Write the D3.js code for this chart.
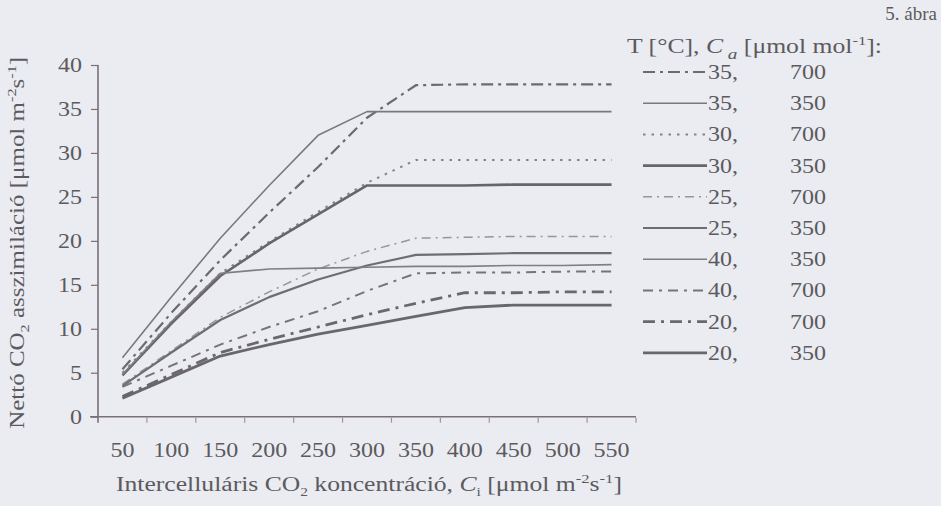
<!DOCTYPE html>
<html>
<head>
<meta charset="utf-8">
<script src="https://cdn.jsdelivr.net/npm/d3@7"></script>
<style>
  html, body { margin: 0; padding: 0; background: #eaecf1; }
  svg { display: block; }
  text { font-family: "Liberation Serif", "Times New Roman", serif; fill: #5c5a5e; }
</style>
</head>
<body>
<div id="chart"></div>
<script>
// Intercellular CO2 categories (x axis)
const categories = [50, 100, 150, 200, 250, 300, 350, 400, 450, 500, 550];
const yTicks = [0, 5, 10, 15, 20, 25, 30, 35, 40];

// Net assimilation per series
const a35_700 = [5.4, 11.8, 17.8, 23.2, 28.4, 34.0, 37.7, 37.8, 37.8, 37.8, 37.8];
const a35_350 = [6.7, 13.6, 20.3, 26.3, 32.0, 34.7, 34.7, 34.7, 34.7, 34.7, 34.7];
const a30_700 = [5.0, 10.8, 16.3, 19.9, 23.3, 26.6, 29.2, 29.2, 29.2, 29.2, 29.2];
const a30_350 = [4.7, 10.6, 16.0, 19.7, 23.0, 26.3, 26.3, 26.3, 26.4, 26.4, 26.4];
const a25_700 = [3.7, 7.5, 11.3, 14.2, 16.8, 18.8, 20.3, 20.4, 20.5, 20.5, 20.5];
const a25_350 = [3.5, 7.3, 11.0, 13.6, 15.6, 17.2, 18.4, 18.5, 18.6, 18.6, 18.6];
const a40_350 = [4.8, 10.8, 16.3, 16.8, 16.9, 17.0, 17.1, 17.1, 17.2, 17.2, 17.3];
const a40_700 = [3.4, 5.8, 8.2, 10.2, 12.0, 14.3, 16.3, 16.4, 16.4, 16.5, 16.5];
const a20_700 = [2.3, 4.8, 7.3, 8.8, 10.2, 11.6, 12.9, 14.1, 14.1, 14.2, 14.2];
const a20_350 = [2.1, 4.5, 6.9, 8.2, 9.4, 10.4, 11.4, 12.4, 12.7, 12.7, 12.7];

// Legend labels (in legend order)
const tempLabels = ["35", "35", "30", "30", "25", "25", "40", "40", "20", "20"];
const caLabels   = ["700", "350", "700", "350", "700", "350", "350", "700", "700", "350"];

// line styles, same order as legend
const series = [
  { values: a35_700, dash: "12,5,3,5", width: 2.2, color: "#6b6a6e" },
  { values: a35_350, dash: null,       width: 1.6, color: "#7a787c" },
  { values: a30_700, dash: "2.5,6",    width: 2,   color: "#858387" },
  { values: a30_350, dash: null,       width: 2.6, color: "#676569" },
  { values: a25_700, dash: "9,5,2,5",  width: 1.5, color: "#97959a" },
  { values: a25_350, dash: null,       width: 2.2, color: "#6f6d71" },
  { values: a40_350, dash: null,       width: 1.6, color: "#807e82" },
  { values: a40_700, dash: "10,6,3,6", width: 2,   color: "#767478" },
  { values: a20_700, dash: "12,6,3,6", width: 2.8, color: "#6a686c" },
  { values: a20_350, dash: null,       width: 2.8, color: "#69676b" }
];

const W = 941, H = 506;
const plot = { left: 98, right: 636, top: 65, bottom: 416.7 };
const SX = 1.2; // the scanned text is a bit wider than the font

const svg = d3.select("#chart").append("svg")
  .attr("width", W)
  .attr("height", H);

// Scales: category axis, points sit in the middle of each slot
const x = d3.scaleBand()
  .domain(categories)
  .range([plot.left, plot.right])
  .padding(0);

const y = d3.scaleLinear()
  .domain([0, 40])
  .range([plot.bottom, plot.top]);

const xc = d => x(d) + x.bandwidth() / 2;

// Y Axis
const yAxis = svg.append("g")
  .attr("transform", `translate(${plot.left},0)`)
  .call(d3.axisLeft(y).tickValues(yTicks).tickSize(7).tickSizeOuter(0).tickPadding(0));
yAxis.select(".domain").remove();
yAxis.selectAll(".tick line").attr("stroke", "#7a7078").attr("stroke-width", 1.2);
yAxis.selectAll(".tick text")
  .attr("x", -16 / SX)
  .attr("transform", `scale(${SX},1)`)
  .attr("font-size", 20)
  .attr("fill", "#5c5a5e");

svg.append("line")
  .attr("x1", plot.left).attr("x2", plot.left)
  .attr("y1", plot.top).attr("y2", plot.bottom + 6)
  .attr("stroke", "#7a7078").attr("stroke-width", 1.6);

// X Axis: labels centred in slots, ticks between slots
const xAxis = svg.append("g")
  .attr("transform", `translate(0,${plot.bottom})`)
  .call(d3.axisBottom(x).tickSize(0).tickPadding(26));
xAxis.select(".domain").remove();
xAxis.selectAll(".tick text")
  .attr("transform", `scale(${SX},1)`)
  .attr("font-size", 20)
  .attr("fill", "#5c5a5e");

svg.append("line")
  .attr("x1", plot.left - 8).attr("x2", plot.right)
  .attr("y1", plot.bottom).attr("y2", plot.bottom)
  .attr("stroke", "#7a7078").attr("stroke-width", 1.6);

svg.append("g").selectAll("line")
  .data(categories)
  .join("line")
    .attr("x1", d => x(d) + x.bandwidth())
    .attr("x2", d => x(d) + x.bandwidth())
    .attr("y1", plot.bottom + 1)
    .attr("y2", plot.bottom + 6)
    .attr("stroke", "#9a969c")
    .attr("stroke-width", 1.2);

// Lines
const lineGen = d3.line()
  .x((d, i) => xc(categories[i]))
  .y(d => y(d));

svg.append("g").selectAll("path")
  .data(series)
  .join("path")
    .attr("fill", "none")
    .attr("stroke", d => d.color)
    .attr("stroke-width", d => d.width)
    .attr("stroke-dasharray", d => d.dash)
    .attr("stroke-linejoin", "round")
    .attr("d", d => lineGen(d.values));

// Y Axis Label
const yTitle = svg.append("text")
  .attr("transform", `translate(24,${(plot.top + plot.bottom) / 2 + 2}) rotate(-90)`)
  .attr("text-anchor", "middle")
  .attr("font-size", 20)
  .attr("textLength", 372)
  .attr("lengthAdjust", "spacingAndGlyphs");
yTitle.append("tspan").text("Nettó CO");
yTitle.append("tspan").attr("dy", 5).attr("font-size", 13).text("2");
yTitle.append("tspan").attr("dy", -5).text(" asszimiláció [μmol m");
yTitle.append("tspan").attr("dy", -8).attr("font-size", 13).text("-2");
yTitle.append("tspan").attr("dy", 8).text("s");
yTitle.append("tspan").attr("dy", -8).attr("font-size", 13).text("-1");
yTitle.append("tspan").attr("dy", 8).text("]");

// X Axis Label
const xTitle = svg.append("text")
  .attr("x", 369)
  .attr("y", 491)
  .attr("text-anchor", "middle")
  .attr("font-size", 20)
  .attr("textLength", 506)
  .attr("lengthAdjust", "spacingAndGlyphs");
xTitle.append("tspan").text("Intercelluláris CO");
xTitle.append("tspan").attr("dy", 5).attr("font-size", 12).text("2");
xTitle.append("tspan").attr("dy", -5).text(" koncentráció, ");
xTitle.append("tspan").attr("font-style", "italic").text("C");
xTitle.append("tspan").attr("dy", 5).attr("font-size", 12).text("i");
xTitle.append("tspan").attr("dy", -5).text("  [μmol m");
xTitle.append("tspan").attr("dy", -8).attr("font-size", 13).text("-2");
xTitle.append("tspan").attr("dy", 8).text("s");
xTitle.append("tspan").attr("dy", -8).attr("font-size", 13).text("-1");
xTitle.append("tspan").attr("dy", 8).text("]");

// Figure number
svg.append("text")
  .attr("x", 937)
  .attr("y", 20)
  .attr("text-anchor", "end")
  .attr("font-size", 19)
  .text("5. ábra");

// Legend title
const legTitle = svg.append("text")
  .attr("x", 627)
  .attr("y", 53)
  .attr("font-size", 20)
  .attr("textLength", 255)
  .attr("lengthAdjust", "spacingAndGlyphs");
legTitle.append("tspan").text("T [°C], ");
legTitle.append("tspan").attr("font-style", "italic").text("C");
legTitle.append("tspan").attr("dy", 6).attr("font-style", "italic").attr("font-size", 15).text(" a");
legTitle.append("tspan").attr("dy", -6).text("  [μmol mol");
legTitle.append("tspan").attr("dy", -8).attr("font-size", 13).text("-1");
legTitle.append("tspan").attr("dy", 8).text("]:");

// Legend rows
const legY = i => 72 + i * 31.2;
const legend = svg.append("g");

legend.selectAll("line")
  .data(series)
  .join("line")
    .attr("x1", 643).attr("x2", 707)
    .attr("y1", (d, i) => legY(i))
    .attr("y2", (d, i) => legY(i))
    .attr("stroke", d => d.color)
    .attr("stroke-width", d => d.width)
    .attr("stroke-dasharray", d => d.dash);

legend.selectAll("text.temp")
  .data(tempLabels)
  .join("text")
    .attr("class", "temp")
    .attr("transform", (d, i) => `translate(708,${legY(i) + 7}) scale(${SX},1)`)
    .attr("font-size", 20)
    .text(d => d + ",");

legend.selectAll("text.ca")
  .data(caLabels)
  .join("text")
    .attr("class", "ca")
    .attr("transform", (d, i) => `translate(790,${legY(i) + 7}) scale(${SX},1)`)
    .attr("font-size", 20)
    .text(d => d);
</script>
</body>
</html>
